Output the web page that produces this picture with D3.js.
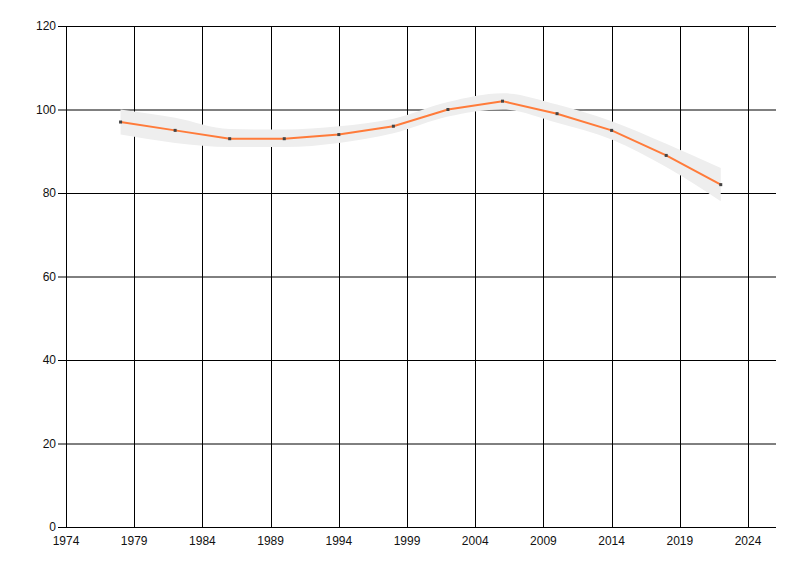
<!DOCTYPE html>
<html><head><meta charset="utf-8">
<script src="https://cdn.jsdelivr.net/npm/d3@7"></script>
<style>body{margin:0;background:#fff}svg{display:block}text{font-family:"Liberation Sans",Arial,sans-serif;font-size:12px;fill:#111}</style>
</head><body><svg id="c" width="800" height="576"></svg>
<script>
const years = [1978,1982,1986,1990,1994,1998,2002,2006,2010,2014,2018,2022];
const values = [97,95,93,93,94,96,100,102,99,95,89,82];
const upper = [100,98,95.3,95.2,96,97.8,101.8,103.9,101.2,97.2,91.8,86];
const lower = [94,92,91,91,92,94.3,98.3,100,96.8,92.8,86.2,78];
const xTicks = [1974,1979,1984,1989,1994,1999,2004,2009,2014,2019,2024];
const yTicks = [0,20,40,60,80,100,120];

const svg = d3.select("#c");
const L=66,R=776,T=26,B=527;
const x = d3.scaleLinear().domain([1974,2026.05]).range([L,R]);
const y = d3.scaleLinear().domain([0,120]).range([B,T]);

// grid
svg.append("g").selectAll("line").data(yTicks).join("line")
  .attr("x1",L-8).attr("x2",R).attr("y1",d=>y(d)+0.5).attr("y2",d=>y(d)+0.5)
  .attr("stroke","#000").attr("stroke-width",1);
svg.append("g").selectAll("line").data(xTicks).join("line")
  .attr("x1",d=>Math.round(x(d))+0.5).attr("x2",d=>Math.round(x(d))+0.5)
  .attr("y1",T).attr("y2",B+1)
  .attr("stroke","#000").attr("stroke-width",1);

// band
const data = years.map((yr,i)=>({yr,v:values[i],u:upper[i],l:lower[i]}));
svg.append("path").datum(data)
  .attr("d",d3.area().x(d=>x(d.yr)).y0(d=>y(d.l)).y1(d=>y(d.u)).curve(d3.curveMonotoneX))
  .attr("fill","#eeeeee");

// line
svg.append("path").datum(data)
  .attr("d",d3.line().x(d=>x(d.yr)).y(d=>y(d.v)))
  .attr("fill","none").attr("stroke","#ff7b3a").attr("stroke-width",2);

svg.append("g").selectAll("rect").data(data).join("rect")
  .attr("x",d=>x(d.yr)-1.5).attr("y",d=>y(d.v)-1.5).attr("width",3).attr("height",3)
  .attr("fill","#444");

// labels
svg.append("g").selectAll("text").data(yTicks).join("text")
  .attr("x",L-10).attr("y",d=>y(d)+4).attr("text-anchor","end").text(d=>d);
svg.append("g").selectAll("text").data(xTicks).join("text")
  .attr("x",d=>x(d)).attr("y",B+18).attr("text-anchor","middle").text(d=>d);
</script></body></html>
